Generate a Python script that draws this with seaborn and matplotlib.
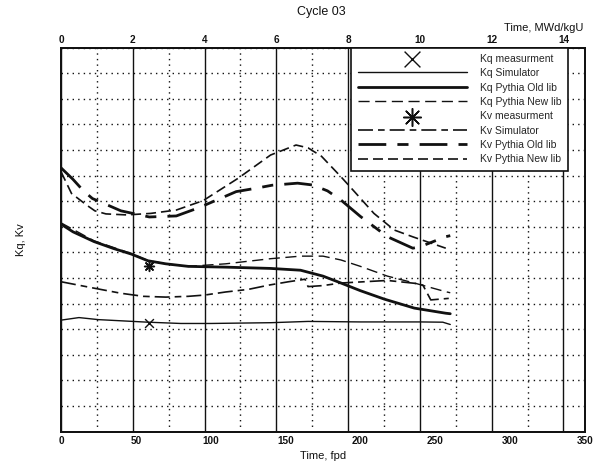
import numpy as np
import pandas as pd
import matplotlib
matplotlib.use("Agg")
import matplotlib.pyplot as plt
from matplotlib.ticker import MultipleLocator, FixedLocator
import seaborn as sns

# ---- data (time in full-power days) ----
kq_meas_t = [58.6]
kq_meas_v = [1.425]
kv_meas_t = [58.6]
kv_meas_v = [1.646]

kq_sim_t = [0, 12, 25, 58, 80, 100, 140, 165, 200, 240, 255, 260]
kq_sim_v = [1.435, 1.445, 1.437, 1.427, 1.422, 1.422, 1.425, 1.430, 1.428, 1.428, 1.427, 1.418]

kq_old_t = [0, 8, 22, 35, 47, 58, 70, 85, 110, 140, 160, 175, 187, 200, 216, 236, 257, 260]
kq_old_v = [1.81, 1.78, 1.742, 1.715, 1.693, 1.667, 1.655, 1.645, 1.642, 1.637, 1.630, 1.607,
            1.580, 1.550, 1.517, 1.482, 1.462, 1.460]

kq_new_t = [0, 22, 47, 58, 70, 85, 110, 140, 160, 175, 187, 200, 218, 236, 257, 260]
kq_new_v = [1.815, 1.745, 1.695, 1.668, 1.655, 1.645, 1.655, 1.675, 1.685, 1.685, 1.670, 1.645,
            1.607, 1.580, 1.546, 1.542]

kv_sim_t = [0, 22, 40, 55, 70, 85, 96, 110, 125, 139, 152, 160, 163, 165, 175, 187, 218, 236,
            241.7, 247, 259]
kv_sim_v = [1.585, 1.560, 1.540, 1.528, 1.525, 1.528, 1.533, 1.545, 1.555, 1.572, 1.585, 1.592,
            1.595, 1.566, 1.570, 1.580, 1.590, 1.579, 1.572, 1.514, 1.520]

kv_old_t = [0, 8, 15, 21, 29, 40, 59, 77, 92, 117, 130, 141, 158, 168, 178, 187, 200, 218, 235,
            240, 257, 260]
kv_old_v = [2.03, 1.985, 1.94, 1.91, 1.89, 1.862, 1.838, 1.842, 1.874, 1.937, 1.95, 1.962, 1.97,
            1.963, 1.94, 1.904, 1.84, 1.761, 1.716, 1.722, 1.761, 1.765]

kv_new_t = [0, 7, 17, 22.6, 30, 44, 60, 77, 95, 118, 140, 157, 165, 174, 187, 196, 209, 222.6,
            234.7, 257]
kv_new_v = [2.015, 1.93, 1.885, 1.862, 1.85, 1.846, 1.852, 1.865, 1.902, 1.988, 2.08, 2.119,
            2.108, 2.075, 1.995, 1.937, 1.852, 1.787, 1.761, 1.716]

x_ticks = [0, 50, 100, 150, 200, 250, 300, 350]
y_ticks = [1.0, 1.5, 2.0, 2.5]
burnup_max = 14.6   # MWd/kgU at 350 fpd

sns.set_style("white")
plt.rcParams["font.family"] = ["Liberation Sans", "DejaVu Sans"]

fig = plt.figure(figsize=(5.95, 4.69), dpi=100)
ax = fig.add_axes([61 / 595, 1 - 431.5 / 469, 524 / 595, 384 / 469])
ax2 = ax.twiny()
ax.set_zorder(2)
ax.patch.set_visible(False)
ax2.set_zorder(1)

ink = "#111111"

sns.scatterplot(x=kq_meas_t, y=kq_meas_v, ax=ax, marker="x", s=40, color=ink,
                linewidth=1.0, label="Kq measurment", zorder=5)
sns.lineplot(x=kq_sim_t, y=kq_sim_v, ax=ax, color=ink, lw=1.0, label="Kq Simulator",
             sort=False)
sns.lineplot(x=kq_old_t, y=kq_old_v, ax=ax, color=ink, lw=2.0, label="Kq Pythia Old lib",
             sort=False)
sns.lineplot(x=kq_new_t, y=kq_new_v, ax=ax, color=ink, lw=1.0, label="Kq Pythia New lib",
             sort=False).lines[-1].set_dashes((8, 4))
sns.scatterplot(x=kv_meas_t, y=kv_meas_v, ax=ax, marker=(8, 2, 0), s=50, color=ink,
                linewidth=1.1, label="Kv measurment", zorder=5)
sns.lineplot(x=kv_sim_t, y=kv_sim_v, ax=ax, color=ink, lw=1.2, label="Kv Simulator",
             sort=False).lines[-1].set_dashes((9, 3, 4, 3))
sns.lineplot(x=kv_old_t, y=kv_old_v, ax=ax, color=ink, lw=2.0, label="Kv Pythia Old lib",
             sort=False).lines[-1].set_dashes((10, 4, 4, 4))
sns.lineplot(x=kv_new_t, y=kv_new_v, ax=ax, color=ink, lw=1.2, label="Kv Pythia New lib",
             sort=False).lines[-1].set_dashes((6, 3))

# axes limits and ticks
ax.set_xlim(0, 350)
ax.set_ylim(1.0, 2.5)
ax.xaxis.set_major_locator(FixedLocator(x_ticks))
ax.set_xticklabels([str(t) for t in x_ticks])
ax.yaxis.set_major_locator(FixedLocator(y_ticks))
ax.set_yticklabels([f"{t:.1f}" for t in y_ticks])
ax.yaxis.set_minor_locator(MultipleLocator(0.1))
ax.tick_params(axis="both", which="both", length=0, labelsize=7.2, pad=3, colors=ink)
for lab in ax.get_xticklabels() + ax.get_yticklabels():
    lab.set_fontweight("bold")
ax.grid(False)
ax.grid(axis="y", which="major", color=ink, lw=1.0, ls="-")
ax.grid(axis="y", which="minor", color=ink, lw=1.0, ls=(0, (1, 3)))

ax2.set_xlim(0, burnup_max)
ax2.xaxis.set_major_locator(MultipleLocator(2))
ax2.xaxis.set_minor_locator(MultipleLocator(1))
ax2.set_yticks([])
ax2.tick_params(axis="x", which="both", length=0, labelsize=7.2, pad=2, colors=ink)
for lab in ax2.get_xticklabels():
    lab.set_fontweight("bold")
ax2.grid(False)
ax2.grid(axis="x", which="major", color=ink, lw=1.0, ls="-")
ax2.grid(axis="x", which="minor", color=ink, lw=1.0, ls=(0, (1, 3)))

for a in (ax, ax2):
    for sp in a.spines.values():
        sp.set_color(ink)
        sp.set_linewidth(1.3)
        sp.set_visible(True)

ax.set_xlabel("Time, fpd", fontsize=8, labelpad=4, color=ink)
ax.set_ylabel("Kq, Kv", fontsize=8, labelpad=22, color=ink)
fig.text(0.54, 1 - 12 / 469, "Cycle 03", ha="center", va="center", fontsize=9, color=ink)
fig.text(0.98, 1 - 28 / 469, "Time, MWd/kgU", ha="right", va="center", fontsize=8, color=ink)

# legend in the requested order
handles, labels = ax.get_legend_handles_labels()
order = ["Kq measurment", "Kq Simulator", "Kq Pythia Old lib", "Kq Pythia New lib",
         "Kv measurment", "Kv Simulator", "Kv Pythia Old lib", "Kv Pythia New lib"]
hmap = dict(zip(labels, handles))
leg = ax.legend([hmap[k] for k in order], order, loc="upper right",
                bbox_to_anchor=(0.968, 1.0), borderaxespad=0, fontsize=7.5,
                handlelength=10.5, handletextpad=1.3, labelspacing=0.42,
                frameon=True, fancybox=False, framealpha=1, edgecolor=ink,
                markerscale=1.8, borderpad=0.6)
leg.get_frame().set_linewidth(1.2)
leg.set_zorder(10)

fig.savefig("out.png", dpi=100)
